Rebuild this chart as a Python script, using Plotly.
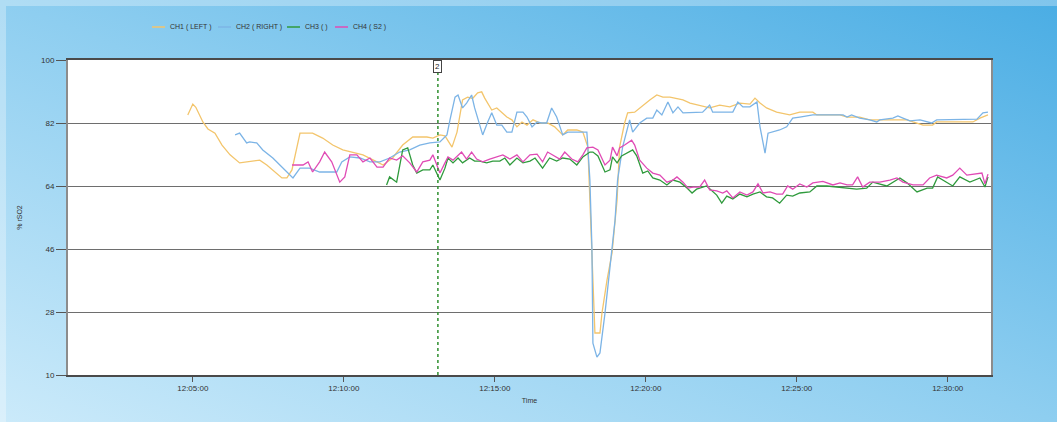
import base64
import plotly.graph_objects as go

DAY = "2024-01-01 "

# CH1 (LEFT)
ch1_time = ["12:04:50", "12:05:00", "12:05:06", "12:05:20", "12:05:30", "12:05:44", "12:05:58", "12:06:14",
            "12:06:33", "12:06:53", "12:07:13", "12:07:27", "12:07:39", "12:07:57", "12:08:07", "12:08:17",
            "12:08:33", "12:08:58", "12:09:18", "12:09:38", "12:09:58", "12:10:18", "12:10:38", "12:11:06",
            "12:11:18", "12:11:37", "12:11:57", "12:12:17", "12:12:45", "12:12:57", "12:13:11", "12:13:21",
            "12:13:35", "12:13:45", "12:13:56", "12:14:06", "12:14:16", "12:14:26", "12:14:34", "12:14:40",
            "12:14:54", "12:15:04", "12:15:14", "12:15:24", "12:15:34", "12:15:44", "12:15:54", "12:16:04",
            "12:16:16", "12:16:30", "12:16:45", "12:16:59", "12:17:15", "12:17:25", "12:17:43", "12:17:55",
            "12:18:05", "12:18:19", "12:18:29", "12:18:33", "12:18:43", "12:18:53", "12:19:03", "12:19:08",
            "12:19:18", "12:19:24", "12:19:38", "12:19:54", "12:20:08", "12:20:22", "12:20:34", "12:20:48",
            "12:20:58", "12:21:14", "12:21:28", "12:21:47", "12:22:07", "12:22:27", "12:22:47", "12:23:07",
            "12:23:27", "12:23:37", "12:23:47", "12:24:00", "12:24:20", "12:24:46", "12:25:06", "12:25:32",
            "12:25:40", "12:26:06", "12:26:26", "12:26:40", "12:27:05", "12:27:25", "12:27:45", "12:28:19",
            "12:28:39", "12:28:51", "12:29:11", "12:29:30", "12:29:38", "12:30:10", "12:30:50", "12:31:04",
            "12:31:20"]
ch1_val = [84.3, 87.4, 86.5, 82.3, 80.3, 79.1, 75.7, 72.9,
           70.6, 70.9, 71.4, 70.0, 68.6, 66.3, 66.3, 68.6,
           79.1, 79.1, 77.7, 75.7, 74.3, 73.7, 72.9, 70.9,
           70.0, 72.0, 75.7, 78.0, 78.0, 77.7, 78.6, 78.3,
           75.1, 79.4, 88.6, 89.4, 89.0, 90.6, 90.9, 89.1,
           85.7, 86.3, 85.1, 83.7, 82.9, 80.9, 82.3, 81.4,
           82.9, 82.0, 82.0, 80.9, 78.6, 80.0, 80.0, 79.4,
           75.1, 22.0, 22.0, 27.7, 37.1, 44.9, 60.0, 75.1,
           82.0, 84.9, 85.1, 87.1, 88.6, 90.0, 89.4, 89.4,
           89.1, 88.6, 87.7, 87.1, 86.3, 87.1, 86.6, 87.7,
           87.4, 89.1, 87.7, 86.3, 85.1, 84.3, 85.1, 85.1,
           84.3, 84.3, 84.3, 83.7, 83.7, 82.9, 82.9, 83.1,
           82.9, 82.3, 81.4, 81.4, 82.3, 82.3, 82.3, 83.4,
           84.3]

# CH2 (RIGHT)
ch2_time = ["12:06:24", "12:06:33", "12:06:47", "12:06:53", "12:07:07", "12:07:19", "12:07:39", "12:07:59",
            "12:08:09", "12:08:19", "12:08:33", "12:08:52", "12:09:12", "12:09:32", "12:09:46", "12:09:56",
            "12:10:12", "12:10:32", "12:10:52", "12:11:12", "12:11:31", "12:11:51", "12:12:11", "12:12:31",
            "12:12:51", "12:13:11", "12:13:25", "12:13:31", "12:13:41", "12:13:47", "12:13:56", "12:14:04",
            "12:14:14", "12:14:20", "12:14:26", "12:14:36", "12:14:46", "12:14:54", "12:15:04", "12:15:14",
            "12:15:24", "12:15:34", "12:15:44", "12:15:56", "12:16:04", "12:16:14", "12:16:24", "12:16:33",
            "12:16:43", "12:16:53", "12:17:03", "12:17:15", "12:17:25", "12:17:43", "12:18:03", "12:18:09",
            "12:18:13", "12:18:15", "12:18:23", "12:18:29", "12:18:39", "12:18:49", "12:18:59", "12:19:04",
            "12:19:14", "12:19:28", "12:19:34", "12:19:48", "12:20:02", "12:20:14", "12:20:22", "12:20:32",
            "12:20:44", "12:20:54", "12:21:04", "12:21:14", "12:21:34", "12:21:53", "12:22:07", "12:22:13",
            "12:22:33", "12:22:53", "12:23:03", "12:23:13", "12:23:27", "12:23:41", "12:23:47", "12:23:57",
            "12:24:03", "12:24:26", "12:24:40", "12:24:52", "12:25:06", "12:25:32", "12:26:06", "12:26:32",
            "12:26:40", "12:26:49", "12:27:05", "12:27:25", "12:27:39", "12:27:45", "12:28:11", "12:28:21",
            "12:28:31", "12:28:45", "12:29:05", "12:29:28", "12:29:38", "12:30:18", "12:30:58", "12:31:10",
            "12:31:20"]
ch2_val = [78.6, 79.1, 76.3, 76.6, 76.3, 74.3, 72.0, 69.1,
           67.7, 66.3, 69.1, 69.1, 68.0, 68.0, 68.0, 70.9,
           72.3, 72.0, 70.9, 70.9, 72.0, 73.7, 74.3, 75.7,
           76.3, 76.6, 78.6, 82.9, 89.4, 90.0, 86.3, 87.7,
           90.0, 86.3, 83.4, 78.6, 82.3, 84.9, 81.4, 81.4,
           79.4, 79.4, 85.1, 85.1, 83.7, 80.9, 82.3, 82.0,
           82.0, 86.3, 83.7, 78.6, 79.4, 79.4, 79.4, 65.7,
           46.6, 19.1, 15.1, 16.3, 27.7, 40.9, 54.3, 65.7,
           75.1, 82.9, 79.4, 82.0, 83.4, 83.4, 85.7, 84.3,
           88.0, 84.9, 86.6, 84.9, 84.9, 85.1, 87.1, 85.1,
           85.1, 85.1, 88.0, 86.6, 86.6, 88.0, 80.9, 73.4,
           79.1, 80.0, 80.9, 83.4, 83.7, 84.3, 84.3, 84.3,
           83.7, 84.3, 83.4, 82.9, 82.3, 82.9, 83.4, 84.0,
           83.4, 82.6, 82.9, 82.0, 82.9, 83.1, 83.1, 84.9,
           85.1]

# CH3 ( )
ch3_time = ["12:11:25", "12:11:31", "12:11:45", "12:11:57", "12:12:07", "12:12:17", "12:12:25", "12:12:37",
            "12:12:51", "12:12:57", "12:13:11", "12:13:21", "12:13:27", "12:13:37", "12:13:47", "12:13:56",
            "12:14:10", "12:14:20", "12:14:30", "12:14:44", "12:14:56", "12:15:10", "12:15:20", "12:15:30",
            "12:15:44", "12:15:56", "12:16:10", "12:16:20", "12:16:35", "12:16:49", "12:17:03", "12:17:15",
            "12:17:29", "12:17:43", "12:17:55", "12:18:09", "12:18:15", "12:18:25", "12:18:39", "12:18:49",
            "12:18:54", "12:19:03", "12:19:12", "12:19:28", "12:19:34", "12:19:42", "12:19:54", "12:20:04",
            "12:20:14", "12:20:28", "12:20:42", "12:20:54", "12:21:08", "12:21:22", "12:21:32", "12:21:41",
            "12:22:01", "12:22:21", "12:22:31", "12:22:41", "12:22:53", "12:23:07", "12:23:21", "12:23:33",
            "12:23:47", "12:24:00", "12:24:12", "12:24:26", "12:24:40", "12:24:52", "12:25:06", "12:25:26",
            "12:25:40", "12:26:00", "12:26:20", "12:26:40", "12:26:59", "12:27:19", "12:27:31", "12:27:59",
            "12:28:25", "12:28:39", "12:28:59", "12:29:19", "12:29:30", "12:29:40", "12:29:58", "12:30:10",
            "12:30:24", "12:30:44", "12:31:04", "12:31:14", "12:31:20"]
ch3_val = [64.3, 66.6, 65.1, 74.3, 74.9, 70.0, 67.7, 68.6,
           68.6, 70.0, 65.7, 69.1, 72.0, 70.6, 72.0, 70.6,
           72.0, 71.1, 71.1, 70.6, 71.1, 71.1, 72.0, 70.0,
           72.0, 70.6, 71.1, 72.0, 69.1, 72.0, 71.1, 72.0,
           71.7, 70.0, 72.3, 73.7, 73.7, 72.6, 68.0, 68.6,
           72.3, 70.6, 72.6, 73.7, 74.3, 72.6, 67.7, 68.3,
           66.3, 65.7, 64.3, 65.7, 65.1, 63.4, 62.0, 63.1,
           64.0, 61.4, 59.1, 61.1, 60.3, 61.7, 60.9, 61.7,
           62.3, 60.9, 60.6, 59.1, 61.4, 61.1, 62.0, 62.3,
           64.0, 64.0, 63.7, 63.4, 63.1, 63.4, 65.1, 64.0,
           66.3, 64.9, 62.3, 63.4, 63.4, 66.6, 65.1, 64.0,
           66.6, 65.1, 66.3, 63.7, 66.6]

# CH4 ( S2 )
ch4_time = ["12:08:17", "12:08:39", "12:08:49", "12:08:58", "12:09:12", "12:09:22", "12:09:36", "12:09:52",
            "12:10:02", "12:10:12", "12:10:26", "12:10:38", "12:10:52", "12:11:06", "12:11:18", "12:11:31",
            "12:11:45", "12:11:57", "12:12:11", "12:12:25", "12:12:37", "12:12:51", "12:12:57", "12:13:11",
            "12:13:21", "12:13:27", "12:13:37", "12:13:54", "12:14:04", "12:14:14", "12:14:24", "12:14:36",
            "12:14:50", "12:15:04", "12:15:16", "12:15:30", "12:15:44", "12:15:56", "12:16:10", "12:16:24",
            "12:16:35", "12:16:45", "12:16:55", "12:17:09", "12:17:19", "12:17:33", "12:17:45", "12:17:55",
            "12:18:03", "12:18:15", "12:18:25", "12:18:39", "12:18:49", "12:18:54", "12:19:03", "12:19:08",
            "12:19:18", "12:19:32", "12:19:38", "12:19:48", "12:20:02", "12:20:14", "12:20:28", "12:20:42",
            "12:20:54", "12:21:02", "12:21:14", "12:21:24", "12:21:34", "12:21:47", "12:21:57", "12:22:07",
            "12:22:21", "12:22:33", "12:22:41", "12:22:53", "12:23:07", "12:23:21", "12:23:33", "12:23:43",
            "12:23:53", "12:24:07", "12:24:20", "12:24:32", "12:24:42", "12:24:52", "12:25:06", "12:25:20",
            "12:25:32", "12:25:52", "12:26:12", "12:26:26", "12:26:40", "12:26:51", "12:27:01", "12:27:11",
            "12:27:25", "12:27:45", "12:28:05", "12:28:19", "12:28:31", "12:28:51", "12:29:11", "12:29:24",
            "12:29:38", "12:29:58", "12:30:10", "12:30:24", "12:30:38", "12:30:58", "12:31:08", "12:31:14",
            "12:31:20"]
ch4_val = [70.0, 70.0, 70.9, 68.0, 70.9, 73.7, 70.9, 65.1,
           66.6, 72.9, 72.9, 70.9, 72.0, 69.4, 69.4, 72.0,
           71.4, 72.6, 70.6, 68.0, 70.9, 71.4, 72.9, 67.7,
           70.6, 72.3, 71.4, 73.7, 71.7, 73.7, 71.7, 70.9,
           71.7, 72.3, 72.9, 71.7, 72.9, 70.9, 72.9, 73.1,
           70.9, 73.7, 72.9, 71.7, 73.7, 71.7, 70.9, 72.9,
           74.9, 75.1, 74.3, 70.0, 71.4, 75.1, 72.6, 74.9,
           75.7, 77.1, 75.7, 71.4, 69.1, 67.7, 67.1, 65.1,
           65.7, 66.6, 65.1, 63.4, 63.7, 63.7, 65.7, 62.9,
           62.6, 62.0, 62.6, 60.6, 62.3, 61.4, 62.3, 64.6,
           62.0, 62.3, 61.7, 61.7, 64.0, 63.1, 64.6, 63.7,
           64.9, 65.3, 64.3, 64.9, 64.3, 64.3, 66.6, 63.7,
           65.1, 65.1, 65.7, 66.3, 65.1, 64.3, 64.3, 66.3,
           67.1, 66.3, 67.1, 69.1, 67.1, 67.4, 67.7, 64.6,
           67.4]

series = [
    ("CH1 ( LEFT )", ch1_time, ch1_val, "#f3c56c"),
    ("CH2 ( RIGHT )", ch2_time, ch2_val, "#7cb4e6"),
    ("CH3 ( )", ch3_time, ch3_val, "#2f9a3c"),
    ("CH4 ( S2 )", ch4_time, ch4_val, "#e04bb5"),
]

y_ticks = [10, 28, 46, 64, 82, 100]
x_range = ["12:00:52", "12:31:26"]
event_time = "12:13:07"
event_label = "2"

W, H = 1057, 422
M_L, M_R, M_T, M_B = 68, 66, 60, 47
PW, PH = W - M_L - M_R, H - M_T - M_B

# compact legend row above the plot (pixel positions of each key line)
LEGEND_Y = 27
LEGEND_X = [152, 218, 287, 335]
KEY_LEN = 13

def px_x(px):
    return (px - M_L) / PW

def px_y(py):
    return 1 + (M_T - py) / PH

fig = go.Figure()
for name, t, v, color in series:
    fig.add_trace(go.Scatter(
        x=[DAY + s for s in t], y=v, mode="lines", name=name,
        line=dict(color=color, width=1.3), showlegend=False,
    ))

small = dict(family="Liberation Sans", size=7, color="#333")
for (name, _, _, color), lx in zip(series, LEGEND_X):
    fig.add_shape(type="line", xref="paper", yref="paper",
                  x0=px_x(lx), x1=px_x(lx + KEY_LEN), y0=px_y(LEGEND_Y), y1=px_y(LEGEND_Y),
                  line=dict(color=color, width=1.5))
    fig.add_annotation(x=px_x(lx + KEY_LEN + 3), y=px_y(LEGEND_Y), xref="paper", yref="paper",
                       xanchor="left", yanchor="middle", text=name, showarrow=False,
                       font=small)

# panel background: diagonal blue gradient with a light rim on the left and top
svg = f'''<svg xmlns="http://www.w3.org/2000/svg" width="{W}" height="{H}" viewBox="0 0 {W} {H}" preserveAspectRatio="none">
<defs><linearGradient id="g" x1="0" y1="1" x2="1" y2="0">
<stop offset="0" stop-color="#cbeafa"/><stop offset="0.5" stop-color="#8ecef0"/><stop offset="1" stop-color="#4aade4"/>
</linearGradient></defs>
<rect width="{W}" height="{H}" fill="url(#g)"/>
<rect x="0" y="0" width="6" height="{H}" fill="#ffffff" fill-opacity="0.3"/>
<rect x="6" y="0" width="{W - 6}" height="6" fill="#ffffff" fill-opacity="0.3"/>
</svg>'''
src = "data:image/svg+xml;base64," + base64.b64encode(svg.encode()).decode()

fig.add_layout_image(dict(
    source=src, xref="paper", yref="paper",
    x=-M_L / PW, y=1 + M_T / PH, sizex=W / PW, sizey=H / PH,
    xanchor="left", yanchor="top", sizing="stretch", layer="below",
))
# white plotting area
fig.add_shape(type="rect", xref="paper", yref="paper", x0=0, x1=1, y0=0, y1=1,
              fillcolor="white", line=dict(width=0), layer="below")

# event marker
fig.add_shape(type="line", xref="x", yref="paper",
              x0=DAY + event_time, x1=DAY + event_time, y0=0, y1=1,
              line=dict(color="#2e8f2e", width=1.5, dash="dot"))
fig.add_annotation(x=DAY + event_time, xref="x", y=1, yref="paper",
                   yanchor="top", text=event_label, showarrow=False,
                   font=dict(size=8, color="#222", family="Liberation Sans"),
                   bgcolor="white", bordercolor="#444", borderwidth=1, borderpad=1)

font = dict(family="Liberation Sans", size=8, color="#333")

fig.update_layout(
    width=W, height=H,
    margin=dict(l=M_L, r=M_R, t=M_T, b=M_B),
    paper_bgcolor="#b9e1f6",
    plot_bgcolor="rgba(0,0,0,0)",
    font=font,
    showlegend=False,
    xaxis=dict(
        type="date", range=[DAY + x_range[0], DAY + x_range[1]],
        tick0=DAY + "12:00:00", dtick=300000, tickformat="%H:%M:%S",
        showgrid=False, zeroline=False,
        showline=True, linecolor="#4a4a4a", linewidth=1.5, mirror=True,
        ticks="outside", ticklen=5, tickcolor="#555", tickwidth=1,
        tickfont=font,
        title=dict(text="Time", font=small, standoff=6),
    ),
    yaxis=dict(
        range=[10, 100], tickvals=y_ticks,
        showgrid=True, gridcolor="#6e6e6e", gridwidth=1.2, zeroline=False,
        showline=True, linecolor="#8c8c8c", linewidth=2, mirror=True,
        ticks="outside", ticklen=10, tickcolor="#555", tickwidth=1,
        tickfont=font,
        title=dict(text="% rSO2", font=small, standoff=18),
    ),
)

fig.write_html("out.html")
